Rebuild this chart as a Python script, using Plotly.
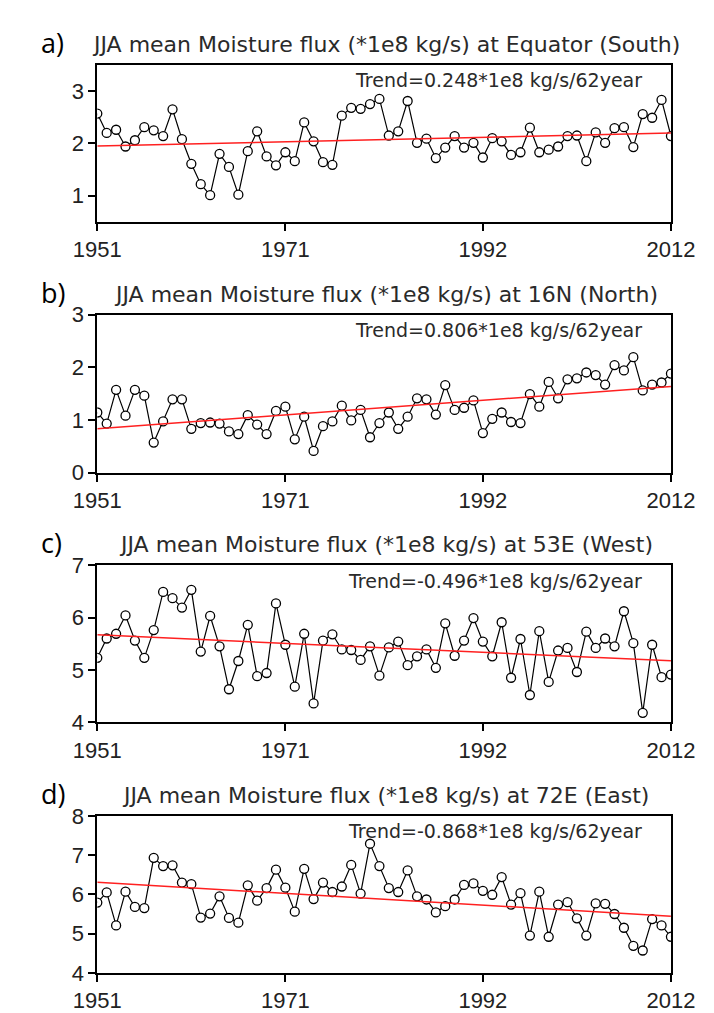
import plotly.graph_objects as go

W, H = 714, 1013

years = list(range(1951, 2013))

flux_south = [2.57, 2.20, 2.26, 1.94, 2.06, 2.31, 2.25, 2.14, 2.65, 2.08,
              1.61, 1.22, 1.01, 1.80, 1.55, 1.02, 1.85, 2.23, 1.75, 1.58,
              1.83, 1.66, 2.40, 2.04, 1.64, 1.59, 2.53, 2.68, 2.66, 2.75,
              2.85, 2.15, 2.23, 2.81, 2.01, 2.09, 1.72, 1.92, 2.14, 1.92,
              2.01, 1.73, 2.10, 2.04, 1.78, 1.83, 2.30, 1.83, 1.88, 1.94,
              2.14, 2.15, 1.66, 2.21, 2.01, 2.29, 2.31, 1.93, 2.56, 2.49,
              2.83, 2.14]
flux_north = [1.14, 0.93, 1.57, 1.08, 1.57, 1.46, 0.57, 0.97, 1.39, 1.39,
              0.83, 0.94, 0.95, 0.93, 0.78, 0.73, 1.09, 0.91, 0.73, 1.17,
              1.25, 0.63, 1.06, 0.41, 0.88, 0.97, 1.27, 0.99, 1.19, 0.67,
              0.94, 1.14, 0.83, 1.06, 1.41, 1.39, 1.10, 1.66, 1.19, 1.23,
              1.37, 0.75, 1.02, 1.14, 0.96, 0.94, 1.49, 1.25, 1.72, 1.41,
              1.77, 1.79, 1.90, 1.85, 1.67, 2.04, 1.94, 2.19, 1.56, 1.67,
              1.71, 1.88]
flux_west = [5.23, 5.60, 5.69, 6.04, 5.56, 5.23, 5.76, 6.49, 6.37, 6.19,
             6.53, 5.35, 6.03, 5.45, 4.63, 5.17, 5.86, 4.88, 4.94, 6.27,
             5.48, 4.68, 5.69, 4.36, 5.56, 5.68, 5.39, 5.38, 5.19, 5.45,
             4.89, 5.43, 5.54, 5.09, 5.26, 5.39, 5.04, 5.89, 5.27, 5.56,
             5.99, 5.54, 5.26, 5.91, 4.85, 5.59, 4.52, 5.74, 4.77, 5.37,
             5.42, 4.96, 5.73, 5.42, 5.60, 5.45, 6.12, 5.51, 4.18, 5.48,
             4.86, 4.91]
flux_east = [5.79, 6.05, 5.21, 6.07, 5.68, 5.65, 6.93, 6.72, 6.74, 6.30,
             6.26, 5.41, 5.51, 5.95, 5.40, 5.28, 6.23, 5.84, 6.16, 6.63,
             6.17, 5.56, 6.65, 5.88, 6.30, 6.06, 6.20, 6.75, 6.02, 7.29,
             6.72, 6.16, 6.06, 6.61, 5.95, 5.87, 5.54, 5.70, 5.87, 6.24,
             6.28, 6.09, 5.99, 6.44, 5.74, 6.03, 4.95, 6.07, 4.92, 5.74,
             5.80, 5.39, 4.95, 5.77, 5.76, 5.50, 5.15, 4.69, 4.57, 5.37,
             5.21, 4.92]

series = [flux_south, flux_north, flux_west, flux_east]
panel_labels = ["a)", "b)", "c)", "d)"]
locations = ["Equator (South)", "16N (North)", "53E (West)", "72E (East)"]
trend_start = [1.95, 0.83, 5.67, 6.31]
trend_change = [0.248, 0.806, -0.496, -0.868]
y_ranges = [[0.5, 3.5], [0, 3], [4, 7], [4, 8]]
y_ticks = [[1, 2, 3], [0, 1, 2, 3], [4, 5, 6, 7], [4, 5, 6, 7, 8]]
x_ticks = [1951, 1971, 1992, 2012]

# pixel boxes of each panel (top, bottom)
boxes = [(46, 207), (302, 464), (559, 720), (816, 977)]
x_left, x_right = 70, 685


def px_x(x):
    return x / W


def px_y(y):
    return 1 - y / H


fig = go.Figure()
annotations = []
title_font = dict(family="DejaVu Sans", size=22, color="#2a2a2a")

for i, vals in enumerate(series):
    n = "" if i == 0 else str(i + 1)
    top, bot = boxes[i]
    fig.add_trace(go.Scatter(
        x=years, y=vals, mode="lines+markers", xaxis="x" + n, yaxis="y" + n,
        line=dict(color="black", width=1.2),
        marker=dict(symbol="circle", size=9, color="white",
                    line=dict(color="black", width=1.3)),
        showlegend=False))
    fig.add_trace(go.Scatter(
        x=[years[0], years[-1]],
        y=[trend_start[i], trend_start[i] + trend_change[i]],
        mode="lines", xaxis="x" + n, yaxis="y" + n,
        line=dict(color="#ff2020", width=1.5), showlegend=False))

    axis_common = dict(showline=True, linecolor="black", linewidth=2,
                       mirror=True, ticks="outside", ticklen=7, tickwidth=1.5,
                       tickcolor="black", showgrid=False, zeroline=False,
                       tickfont=dict(family="Liberation Sans", size=22, color="#222"))
    fig.update_layout(**{
        "xaxis" + n: dict(domain=[px_x(x_left), px_x(x_right)],
                          anchor="y" + n, range=[1951, 2012],
                          tickvals=x_ticks, **axis_common),
        "yaxis" + n: dict(domain=[px_y(bot), px_y(top)],
                          anchor="x" + n, range=y_ranges[i],
                          tickvals=y_ticks[i], **axis_common),
    })

    annotations.append(dict(
        text="JJA mean Moisture flux (*1e8 kg/s) at " + locations[i],
        x=px_x((x_left + x_right) / 2 + 2), y=px_y(top - 21),
        xref="paper", yref="paper", xanchor="center", yanchor="middle",
        showarrow=False, font=title_font))
    annotations.append(dict(
        text=panel_labels[i], x=px_x(8), y=px_y(top - 23),
        xref="paper", yref="paper", xanchor="left", yanchor="middle",
        showarrow=False,
        font=dict(family="Open Sans", size=27, color="black")))
    annotations.append(dict(
        text="Trend=%.3f*1e8 kg/s/62year" % trend_change[i],
        x=px_x(656), y=px_y(top + 16),
        xref="paper", yref="paper", xanchor="right", yanchor="middle",
        showarrow=False, font=dict(family="DejaVu Sans", size=19, color="#2a2a2a")))

fig.update_layout(
    width=W, height=H,
    margin=dict(l=0, r=0, t=0, b=0),
    paper_bgcolor="white", plot_bgcolor="white",
    annotations=annotations,
)

fig.write_html("out.html")
